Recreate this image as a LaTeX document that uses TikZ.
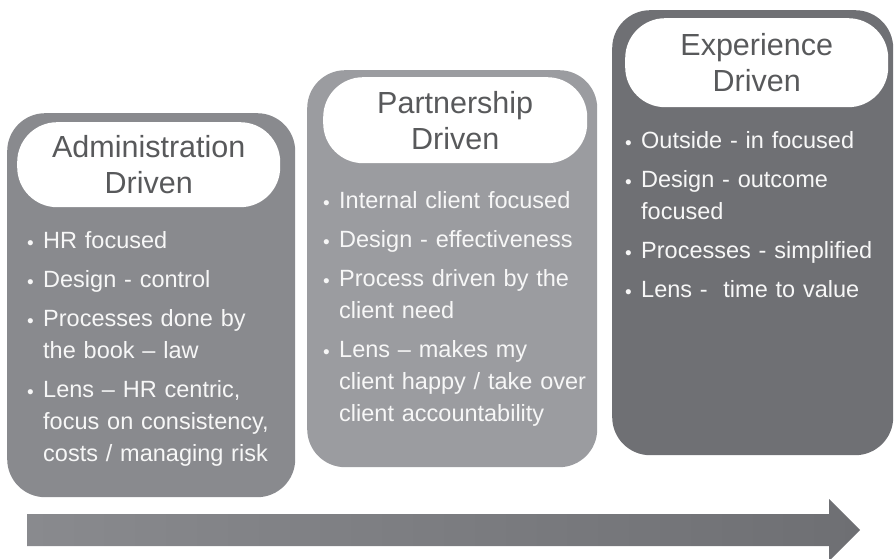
\documentclass[tikz,border=0pt]{standalone}
\usepackage{fontspec}
\setmainfont{Liberation Sans}
\usetikzlibrary{positioning}
\definecolor{AdminGrey}{HTML}{898A8E}
\definecolor{PartnerGrey}{HTML}{9B9CA0}
\definecolor{ExperGrey}{HTML}{6F7074}
\definecolor{ArrowLight}{HTML}{898A8E}
\definecolor{ArrowDark}{HTML}{6E6F73}
\definecolor{HeadText}{HTML}{58595B}
\definecolor{BodyText}{HTML}{F7F7F7}
\newcommand{\bitem}[1]{\parskip=7pt\relax\hangindent=16pt\hangafter=1\noindent\makebox[16pt][l]{\raisebox{-0.5pt}{\fontsize{19}{19}\selectfont •}}#1\par}

\begin{document}
\begin{tikzpicture}[x=1pt, y=-1pt,
    stage/.style={fill=#1, rounded corners=38pt, inner sep=0pt, anchor=north west},
    headbox/.style={fill=white, rounded corners=40pt, inner sep=0pt, align=center, text=HeadText, font=\fontsize{30.5}{36}\selectfont},
    bullets/.style={inner sep=0pt, text width=280pt, align=left, text=BodyText, font=\fontsize{23.5}{32}\selectfont}]
        \useasboundingbox (0,0) rectangle (894,559);
        % three stages
        \node[stage=AdminGrey, minimum width=288pt, minimum height=384pt] (admin) at (7,113) {};
        \node[stage=PartnerGrey, minimum width=290pt, minimum height=397pt] (partner) at (307,70) {};
        \node[stage=ExperGrey, minimum width=281pt, minimum height=445pt] (exper) at (612,10) {};

        \node[headbox, minimum width=263pt, minimum height=85pt, below right=9pt and 10pt of admin.north west] (adminhead) {Administration\\Driven};
        \node[headbox, minimum width=264pt, minimum height=86pt, below right=7pt and 16pt of partner.north west] (partnerhead) {Partnership\\Driven};
        \node[headbox, minimum width=263pt, minimum height=89pt, below right=8pt and 13pt of exper.north west] (experhead) {Experience\\Driven};

        \node[bullets, below right=24pt and 10pt of adminhead.south west] (admintext) {%
            \bitem{HR focused}
            \bitem{Design - control}
            \bitem{Processes done by\newline the book – law}
            \bitem{Lens – HR centric,\newline focus on consistency,\newline costs / managing risk}};
        \node[bullets, below right=28pt and 0pt of partnerhead.south west] (partnertext) {%
            \bitem{Internal client focused}
            \bitem{Design - effectiveness}
            \bitem{Process driven by the\newline client need}
            \bitem{Lens – makes my\newline client happy / take over\newline client accountability}};
        \node[bullets, below right=24pt and 0pt of experhead.south west] (expertext) {%
            \bitem{Outside - in focused}
            \bitem{Design - outcome\newline focused}
            \bitem{Processes - simplified}
            \bitem{Lens -\ \ time to value}};

        % progress arrow
        \coordinate (tail) at (27,530);
        \coordinate (tip) at (860,530);
        \shade[left color=ArrowLight, right color=ArrowDark] ([yshift=16pt]tail) -- ([xshift=-31pt,yshift=16pt]tip) -- ([xshift=-31pt,yshift=31pt]tip) -- (tip) -- ([xshift=-31pt,yshift=-31pt]tip) -- ([xshift=-31pt,yshift=-16pt]tip) -- ([yshift=-16pt]tail) -- cycle;
    \end{tikzpicture}
\end{document}
